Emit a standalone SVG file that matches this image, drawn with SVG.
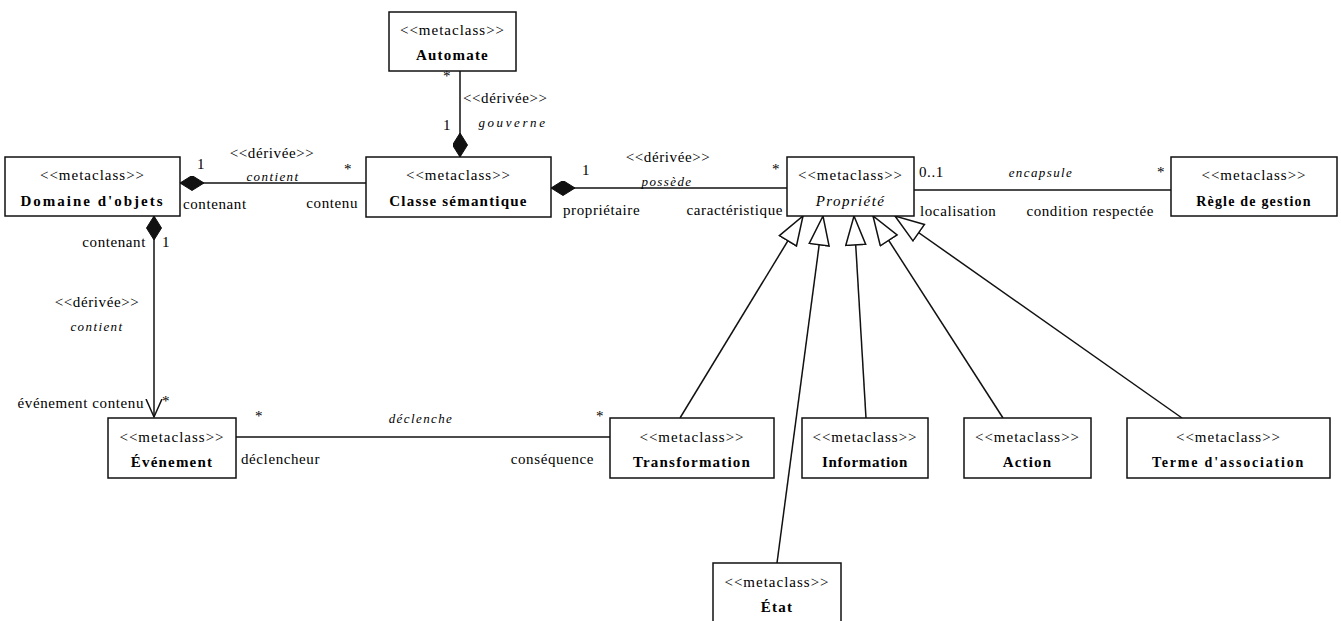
<svg xmlns="http://www.w3.org/2000/svg" width="1341" height="621" viewBox="0 0 1341 621" font-family="'Liberation Serif', 'Times New Roman', serif">
<style>
text{font-family:"Liberation Serif","Times New Roman",serif;fill:#000;}
.st{font-size:15px;letter-spacing:1px;text-anchor:middle;}
.nm{font-size:15px;font-weight:bold;text-anchor:middle;letter-spacing:1.2px;}
.it{font-style:italic;letter-spacing:1.4px;}
.lb{font-size:15px;letter-spacing:0.6px;}
.il{font-size:13px;font-style:italic;letter-spacing:1.4px;text-anchor:middle;}
.box{fill:#fff;stroke:#111;stroke-width:1.5;}
.ln{stroke:#111;stroke-width:1.5;fill:none;}
.mid{text-anchor:middle;}
.end{text-anchor:end;}
</style>
<defs>
<marker id="diamond" markerUnits="userSpaceOnUse" markerWidth="26" markerHeight="16" refX="0" refY="7.5" orient="auto" viewBox="0 0 26 16">
<path d="M0,7.5 L12,0 L24,7.5 L12,15 z" fill="#111" stroke="#111" stroke-width="1"/>
</marker>
<marker id="gen" markerUnits="userSpaceOnUse" markerWidth="32" markerHeight="24" refX="30" refY="11" orient="auto" viewBox="0 0 32 24">
<path d="M1,1 L30,11 L1,21 z" fill="#fff" stroke="#111" stroke-width="1.5"/>
</marker>
<marker id="open" markerUnits="userSpaceOnUse" markerWidth="20" markerHeight="20" refX="18" refY="8" orient="auto" viewBox="0 0 20 16">
<path d="M0,0 L18,8 L0,16" fill="none" stroke="#111" stroke-width="1.5"/>
</marker>
</defs>

<g id="connectors">
<line class="ln" x1="180" y1="183" x2="366" y2="183" marker-start="url(#diamond)"/>
<line class="ln" x1="460" y1="157" x2="460" y2="71" marker-start="url(#diamond)"/>
<line class="ln" x1="551" y1="188" x2="787" y2="188" marker-start="url(#diamond)"/>
<line class="ln" x1="914" y1="190" x2="1171" y2="190"/>
<line class="ln" x1="154" y1="216" x2="154" y2="417" marker-start="url(#diamond)" marker-end="url(#open)"/>
<line class="ln" x1="236" y1="437" x2="610" y2="437"/>
<line class="ln" x1="680" y1="418" x2="803" y2="216" marker-end="url(#gen)"/>
<line class="ln" x1="777" y1="563" x2="823" y2="216" marker-end="url(#gen)"/>
<line class="ln" x1="866" y1="418" x2="854" y2="216" marker-end="url(#gen)"/>
<line class="ln" x1="1003" y1="418" x2="873" y2="216" marker-end="url(#gen)"/>
<line class="ln" x1="1182" y1="418" x2="895" y2="216" marker-end="url(#gen)"/>

<text class="lb" x="197" y="169">1</text>
<text class="lb mid" x="272" y="158">&lt;&lt;dérivée&gt;&gt;</text>
<text class="il" x="273" y="181">contient</text>
<text class="lb mid" x="348" y="174">*</text>
<text class="lb" x="183" y="209">contenant</text>
<text class="lb end" x="358" y="208">contenu</text>

<text class="lb mid" x="447" y="81">*</text>
<text class="lb" x="463" y="103">&lt;&lt;dérivée&gt;&gt;</text>
<text class="il" x="513" y="127" style="letter-spacing:2.6px">gouverne</text>
<text class="lb mid" x="447" y="130">1</text>

<text class="lb" x="582" y="175">1</text>
<text class="lb mid" x="668" y="162">&lt;&lt;dérivée&gt;&gt;</text>
<text class="il" x="667" y="186">possède</text>
<text class="lb mid" x="776" y="174">*</text>
<text class="lb" x="563" y="215">propriétaire</text>
<text class="lb end" x="783" y="215">caractéristique</text>

<text class="lb" x="919" y="177">0..1</text>
<text class="il" x="1041" y="177">encapsule</text>
<text class="lb mid" x="1161" y="177">*</text>
<text class="lb" x="920" y="216">localisation</text>
<text class="lb end" x="1154" y="216">condition respectée</text>

<text class="lb end" x="146" y="247">contenant</text>
<text class="lb" x="162" y="247">1</text>
<text class="lb mid" x="97" y="307">&lt;&lt;dérivée&gt;&gt;</text>
<text class="il" x="97" y="331">contient</text>
<text class="lb end" x="144" y="408">événement contenu</text>
<text class="lb mid" x="166" y="406">*</text>

<text class="lb mid" x="259" y="421">*</text>
<text class="il" x="421" y="423">déclenche</text>
<text class="lb mid" x="600" y="421">*</text>
<text class="lb" x="241" y="464">déclencheur</text>
<text class="lb end" x="594" y="464">conséquence</text>
</g>

<g id="automate">
<rect class="box" x="389" y="12" width="127" height="59"/>
<text class="st" x="452.5" y="35">&lt;&lt;metaclass&gt;&gt;</text>
<text class="nm" x="452.5" y="60">Automate</text>
</g>
<g id="domaine">
<rect class="box" x="5" y="157" width="175" height="59"/>
<text class="st" x="92.5" y="180">&lt;&lt;metaclass&gt;&gt;</text>
<text class="nm" x="92.5" y="206" style="letter-spacing:2px">Domaine d'objets</text>
</g>
<g id="classe">
<rect class="box" x="366" y="157" width="185" height="60"/>
<text class="st" x="458.5" y="180">&lt;&lt;metaclass&gt;&gt;</text>
<text class="nm" x="458.5" y="206">Classe sémantique</text>
</g>
<g id="propriete">
<rect class="box" x="787" y="157" width="127" height="59"/>
<text class="st" x="850.5" y="180">&lt;&lt;metaclass&gt;&gt;</text>
<text class="st it" x="850.5" y="206">Propriété</text>
</g>
<g id="regle">
<rect class="box" x="1171" y="157" width="166" height="59"/>
<text class="st" x="1254" y="180">&lt;&lt;metaclass&gt;&gt;</text>
<text class="nm" x="1254" y="206" style="font-size:14px">Règle de gestion</text>
</g>
<g id="evenement">
<rect class="box" x="108" y="418" width="128" height="60"/>
<text class="st" x="172" y="442">&lt;&lt;metaclass&gt;&gt;</text>
<text class="nm" x="172" y="467">Événement</text>
</g>
<g id="transformation">
<rect class="box" x="610" y="418" width="164" height="60"/>
<text class="st" x="692" y="442">&lt;&lt;metaclass&gt;&gt;</text>
<text class="nm" x="692" y="467">Transformation</text>
</g>
<g id="information">
<rect class="box" x="802" y="418" width="126" height="60"/>
<text class="st" x="865" y="442">&lt;&lt;metaclass&gt;&gt;</text>
<text class="nm" x="865" y="467" style="letter-spacing:0.7px">Information</text>
</g>
<g id="action">
<rect class="box" x="964" y="418" width="127" height="60"/>
<text class="st" x="1027.5" y="442">&lt;&lt;metaclass&gt;&gt;</text>
<text class="nm" x="1027.5" y="467">Action</text>
</g>
<g id="terme">
<rect class="box" x="1127" y="418" width="203" height="60"/>
<text class="st" x="1228.5" y="442">&lt;&lt;metaclass&gt;&gt;</text>
<text class="nm" x="1228.5" y="467" style="font-size:14px;letter-spacing:1.8px">Terme d'association</text>
</g>
<g id="etat">
<rect class="box" x="713" y="563" width="128" height="64"/>
<text class="st" x="777" y="587">&lt;&lt;metaclass&gt;&gt;</text>
<text class="nm" x="777" y="612">État</text>
</g>
</svg>
